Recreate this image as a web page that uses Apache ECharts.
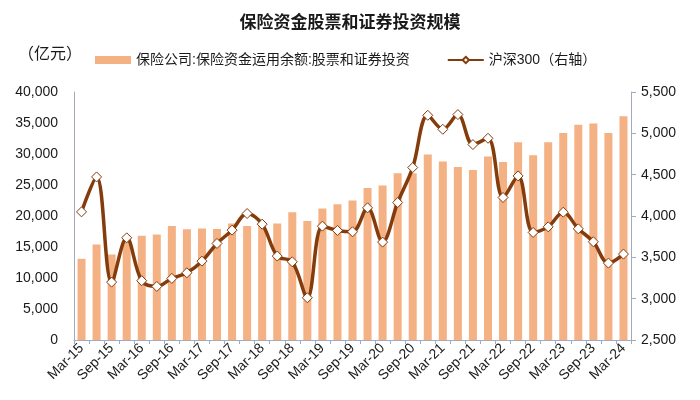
<!DOCTYPE html>
<html>
<head>
<meta charset="utf-8">
<script src="https://cdn.jsdelivr.net/npm/echarts@6/dist/echarts.min.js"></script>
<style>
html,body{margin:0;padding:0;background:#fff;}
#main{width:700px;height:400px;}
</style>
</head>
<body>
<div id="main"></div>
<script>
var categories = ['Mar-15','Jun-15','Sep-15','Dec-15','Mar-16','Jun-16','Sep-16','Dec-16','Mar-17','Jun-17','Sep-17','Dec-17','Mar-18','Jun-18','Sep-18','Dec-18','Mar-19','Jun-19','Sep-19','Dec-19','Mar-20','Jun-20','Sep-20','Dec-20','Mar-21','Jun-21','Sep-21','Dec-21','Mar-22','Jun-22','Sep-22','Dec-22','Mar-23','Jun-23','Sep-23','Dec-23','Mar-24'];
var stockInvest = [13100,15400,13800,16800,16800,17000,18400,17850,18000,17900,18800,18400,18900,18800,20600,19200,21200,21900,22500,24500,24900,26900,26900,29900,28800,27900,27400,29600,28700,31900,29800,31900,33400,34700,34900,33400,36100];
var hs300 = [4050,4473,3200,3736,3217,3148,3245,3313,3454,3668,3829,4030,3901,3515,3446,3011,3877,3825,3809,4099,3684,4163,4586,5218,5049,5227,4864,4940,4224,4485,3801,3869,4046,3845,3688,3430,3539];
var leftTicks = {min:0, max:40000, interval:5000};
var rightTicks = {min:2500, max:5500, interval:500};

var fmt = function(v){ return Number(v).toLocaleString('en-US'); };
var axisColor = '#A3ABBB';
var textFont = '"Liberation Sans", Arial, "Noto Sans CJK SC", sans-serif';
var chart = echarts.init(document.getElementById('main'));
chart.setOption({
  backgroundColor:'#fff',
  animation:false,
  textStyle:{fontFamily:textFont},
  title:{
    text:'保险资金股票和证券投资规模',
    left:'center', top:8,
    textStyle:{fontSize:17, fontWeight:'bold', color:'#1a1a1a', fontFamily:'"Noto Sans CJK SC", sans-serif'}
  },
  graphic:[{
    type:'text', left:18, top:45,
    style:{text:'（亿元）', fontSize:16, fill:'#1a1a1a', fontFamily:'"Noto Sans CJK SC", sans-serif'}
  }],
  legend:{
    left:90, top:48,
    itemGap:37,
    itemWidth:36, itemHeight:8,
    textStyle:{fontSize:14, color:'#1a1a1a', fontFamily:textFont},
    data:[
      {name:'保险公司:保险资金运用余额:股票和证券投资', icon:'rect'},
      {name:'沪深300（右轴）'}
    ]
  },
  grid:{left:74, right:69, top:92, bottom:60},
  xAxis:{
    type:'category',
    data:categories,
    boundaryGap:true,
    axisLine:{lineStyle:{color:axisColor, width:1}},
    axisTick:{show:true, interval:0, length:4, lineStyle:{color:axisColor}},
    axisLabel:{interval:1, rotate:45, fontSize:14, color:'#1a1a1a', margin:6}
  },
  yAxis:[{
    type:'value',
    min:leftTicks.min, max:leftTicks.max, interval:leftTicks.interval,
    axisLine:{show:true, lineStyle:{color:axisColor}},
    axisTick:{show:false},
    splitLine:{show:false},
    axisLabel:{fontSize:14, color:'#1a1a1a', margin:16, formatter:fmt}
  },{
    type:'value',
    position:'right',
    min:rightTicks.min, max:rightTicks.max, interval:rightTicks.interval,
    axisLine:{show:true, lineStyle:{color:axisColor}},
    axisTick:{show:true, length:5, lineStyle:{color:axisColor}},
    splitLine:{show:false},
    axisLabel:{fontSize:14, color:'#1a1a1a', margin:10, formatter:fmt}
  }],
  series:[{
    name:'保险公司:保险资金运用余额:股票和证券投资',
    type:'bar',
    data:stockInvest,
    barWidth:8,
    itemStyle:{color:'#F4B183'}
  },{
    name:'沪深300（右轴）',
    type:'line',
    yAxisIndex:1,
    data:hs300,
    smooth:0.35,
    symbol:'diamond',
    symbolSize:10,
    lineStyle:{color:'#843C0C', width:3.5},
    itemStyle:{color:'#fff', borderColor:'#843C0C', borderWidth:1}
  }]
});
</script>
</body>
</html>
